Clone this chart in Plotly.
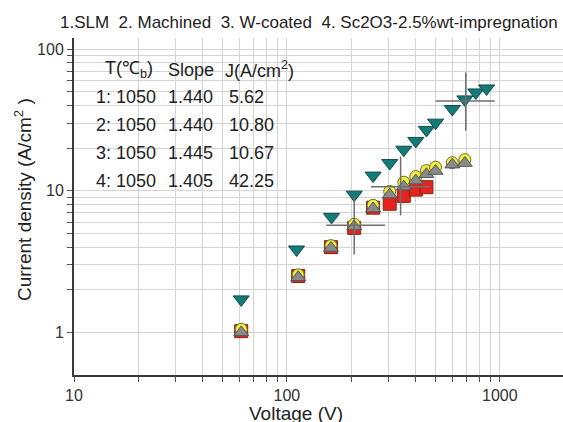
import plotly.graph_objects as go
import math

# ---- data ----
V_slm = [61, 113, 161, 207, 254, 304, 354, 403, 452]
J_slm = [1.02, 2.5, 4.0, 5.47, 7.6, 8.1, 9.2, 10.2, 10.6]

V_mach = [61, 113, 161, 207, 254, 304, 354, 403, 452, 499, 598, 685]
J_mach = [1.05, 2.55, 4.1, 5.8, 7.9, 9.9, 11.5, 12.6, 13.9, 14.7, 15.8, 16.6]

V_wc = [61, 113, 161, 207, 254, 304, 354, 403, 452, 499, 598, 685]
J_wc = [1.0, 2.45, 3.95, 5.6, 7.5, 9.4, 10.7, 11.8, 13.1, 13.8, 15.3, 15.7]

V_sc = [61, 111, 162, 207, 254, 304, 354, 403, 452, 499, 598, 685, 771, 866]
J_sc = [1.71, 3.85, 6.54, 9.39, 12.8, 15.7, 19.5, 22.5, 26.9, 30.3, 37.8, 44.2, 49.5, 52.8]

# crosshair error marks
cross_x = [207, 342, 692]
cross_y = [5.7, 10.7, 43]
cross_x_lo = [153, 248, 500]
cross_x_hi = [289, 470, 947]
cross_y_lo = [3.55, 6.7, 26.6]
cross_y_hi = [9.13, 17.5, 68.5]

table_header = ["T(℃<sub>b</sub>)", "Slope", "J(A/cm<sup>2</sup>)"]
table_rows = [
    ["1: 1050", "1.440", "5.62"],
    ["2: 1050", "1.440", "10.80"],
    ["3: 1050", "1.445", "10.67"],
    ["4: 1050", "1.405", "42.25"],
]
title_text = "1.SLM  2. Machined  3. W-coated  4. Sc2O3-2.5%wt-impregnation"

x_ticks = [10, 20, 30, 40, 50, 60, 70, 80, 90, 100, 200, 300, 400, 500, 600, 700, 800, 900, 1000]
y_ticks = [1, 2, 3, 4, 5, 6, 7, 8, 9, 10, 20, 30, 40, 50, 60, 70, 80, 90, 100]

# ---- figure ----
W, H = 563, 422
L, R, T, B = 74, 0, 38, 47
pw, ph = W - L - R, H - T - B

def px(xp):
    return (xp - L) / pw

def py(yp):
    return (H - B - yp) / ph

fig = go.Figure()

fig.add_trace(go.Scatter(x=V_slm, y=J_slm, mode="markers", name="1.SLM",
                         marker=dict(symbol="square", size=13, color="#e8231f",
                                     line=dict(color="#7a2a10", width=1))))
fig.add_trace(go.Scatter(x=V_mach, y=J_mach, mode="markers", name="2. Machined",
                         marker=dict(symbol="circle", size=12, color="#f3ee3c",
                                     line=dict(color="#6d6a3a", width=1))))
fig.add_trace(go.Scatter(x=V_wc, y=J_wc, mode="markers", name="3. W-coated",
                         marker=dict(symbol="triangle-up", size=13, color="#8a8a8a",
                                     line=dict(color="#555555", width=1))))
fig.add_trace(go.Scatter(x=V_sc, y=J_sc, mode="markers", name="4. Sc2O3",
                         marker=dict(symbol="triangle-down", size=14, color="#167a78",
                                     line=dict(color="#0d4d4b", width=1))))

cx, cy = [], []
for i in range(len(cross_x)):
    cx += [cross_x_lo[i], cross_x_hi[i], None, cross_x[i], cross_x[i], None]
    cy += [cross_y[i], cross_y[i], None, cross_y_lo[i], cross_y_hi[i], None]
fig.add_trace(go.Scatter(x=cx, y=cy, mode="lines", line=dict(color="#6e6e6e", width=1.5),
                         hoverinfo="skip"))

ann = []
font = "Liberation Sans, Arial, sans-serif"
ann.append(dict(text=title_text, xref="paper", yref="paper", x=px(309), y=py(23),
                xanchor="center", yanchor="middle", showarrow=False,
                font=dict(family=font, size=17, color="#222")))

col_x_header = [103, 166, 223]
col_x_rows = [94, 166, 227]
row_y = [97, 125, 153, 181]
for j, h in enumerate(table_header):
    ann.append(dict(text=h, xref="paper", yref="paper", x=px(col_x_header[j]), y=py(70),
                    xanchor="left", yanchor="middle", showarrow=False,
                    font=dict(family=font, size=18, color="#222")))
for i, row in enumerate(table_rows):
    for j, cell in enumerate(row):
        ann.append(dict(text=cell, xref="paper", yref="paper", x=px(col_x_rows[j]), y=py(row_y[i]),
                        xanchor="left", yanchor="middle", showarrow=False,
                        font=dict(family=font, size=18, color="#222")))

ann.append(dict(text="Voltage (V)", xref="paper", yref="paper", x=px(296), y=py(414),
                xanchor="center", yanchor="middle", showarrow=False,
                font=dict(family=font, size=19, color="#222")))
ann.append(dict(text="Current density (A/cm<sup>2</sup> )", xref="paper", yref="paper",
                x=px(23), y=py(200), xanchor="center", yanchor="middle", showarrow=False,
                textangle=-90, font=dict(family=font, size=19, color="#222")))

def labels(vals):
    return [str(v) if math.log10(v).is_integer() else "" for v in vals]

fig.update_layout(
    width=W, height=H, margin=dict(l=L, r=R, t=T, b=B),
    paper_bgcolor="white", plot_bgcolor="white", showlegend=False,
    annotations=ann,
    xaxis=dict(type="log", range=[1, math.log10(1980)], tickvals=x_ticks, ticktext=labels(x_ticks),
               showgrid=True, gridcolor="#d4d4d4", gridwidth=1, zeroline=False,
               showline=True, linecolor="#3a3a3a", linewidth=2,
               ticks="outside", ticklen=5, tickcolor="#555", tickwidth=1,
               tickfont=dict(family=font, size=16, color="#333")),
    yaxis=dict(type="log", range=[math.log10(0.5), math.log10(120)], tickvals=y_ticks, ticktext=labels(y_ticks),
               showgrid=True, gridcolor="#d4d4d4", gridwidth=1, zeroline=False,
               showline=True, linecolor="#3a3a3a", linewidth=2,
               ticks="outside", ticklen=5, tickcolor="#555", tickwidth=1,
               tickfont=dict(family=font, size=16, color="#333")),
)

fig.write_html("out.html", config={"displayModeBar": False},
               post_script="document.body.style.margin='0px';document.body.style.overflow='hidden';")
